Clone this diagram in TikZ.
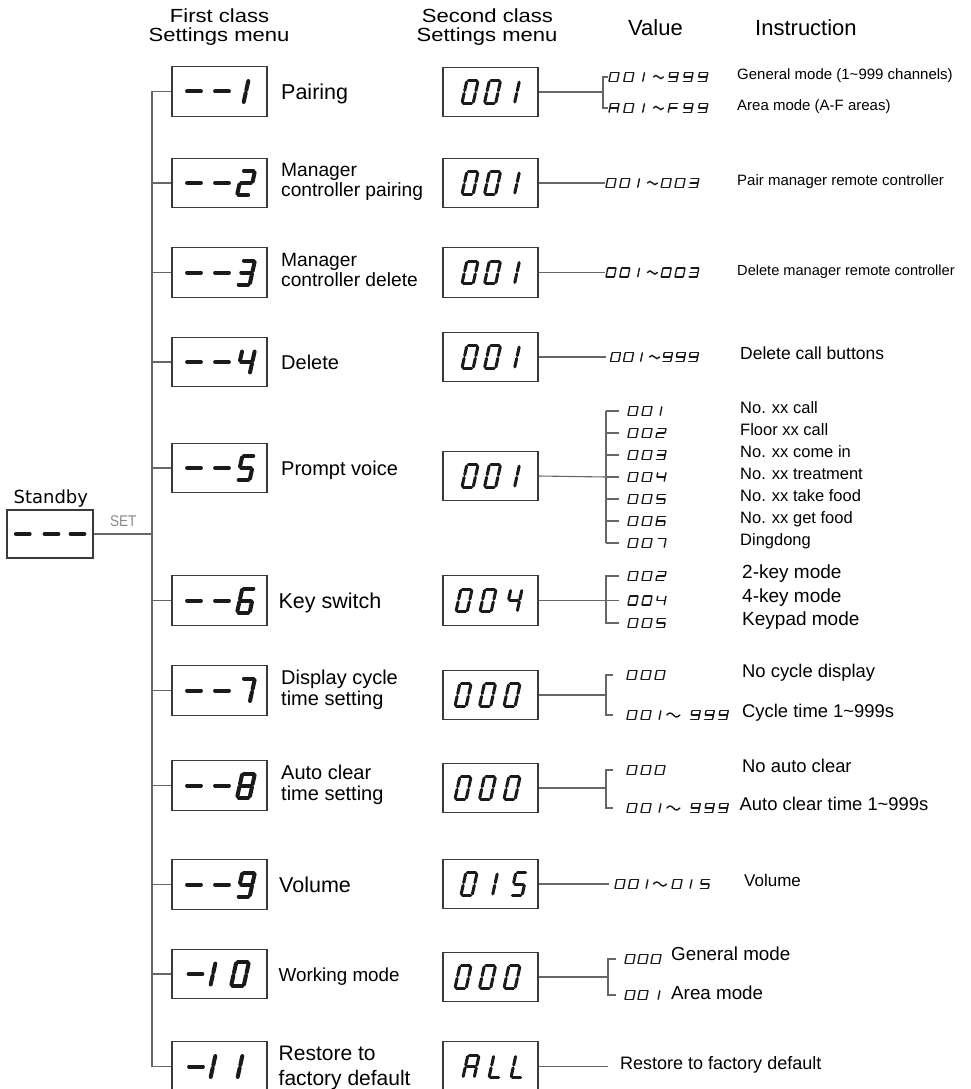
\documentclass[tikz,border=0pt]{standalone}
\usepackage{fontspec}
\setmainfont{Liberation Sans}
\newfontfamily\hdrfont[FakeStretch=1.16]{Liberation Sans}
\newfontfamily\narrowfont[FakeStretch=0.88]{Liberation Sans}
\newfontfamily\sbyfont{DejaVu Sans}
\newcommand\fsz[1]{\fontsize{#1}{#1}\selectfont}
\definecolor{boxc}{HTML}{3A3A3A}
\definecolor{linec}{HTML}{666666}
\definecolor{segc}{HTML}{1A1A1A}
\definecolor{setc}{HTML}{8A8A8A}
% seven-segment machinery
\newcommand\segset[5]{\def\hw{#1}\def\hh{#2}\def\segt{#3}\def\seggap{#4}\def\segsl{#5}}
\def\dw{8.5}
\def\spa{(-\hw,-\hh)--(\hw,-\hh)}
\def\spb{(\hw,-\hh)--(\hw,0)}
\def\spc{(\hw,0)--(\hw,\hh)}
\def\spd{(-\hw,\hh)--(\hw,\hh)}
\def\spe{(-\hw,0)--(-\hw,\hh)}
\def\spf{(-\hw,-\hh)--(-\hw,0)}
\def\spg{(-\hw,0)--(\hw,0)}
\def\spB{(0,-\hh)--(0,0)}
\def\spC{(0,0)--(0,\hh)}
\def\spm{(-\dw,0)--(\dw,0)}
\expandafter\def\csname dg0\endcsname{a,b,c,d,e,f}
\expandafter\def\csname dg1\endcsname{B,C}
\expandafter\def\csname dg2\endcsname{a,b,g,e,d}
\expandafter\def\csname dg3\endcsname{a,b,g,c,d}
\expandafter\def\csname dg4\endcsname{f,g,b,c}
\expandafter\def\csname dg5\endcsname{a,f,g,c,d}
\expandafter\def\csname dg6\endcsname{a,f,g,e,d,c}
\expandafter\def\csname dg7\endcsname{a,b,c}
\expandafter\def\csname dg8\endcsname{a,b,c,d,e,f,g}
\expandafter\def\csname dg9\endcsname{a,b,c,d,f,g}
\expandafter\def\csname dgA\endcsname{a,b,c,e,f,g}
\expandafter\def\csname dgL\endcsname{d,e,f}
\expandafter\def\csname dgF\endcsname{a,e,f,g}
\expandafter\def\csname dgm\endcsname{m}
\tikzset{segline/.style={draw=segc, line width=\segt pt, line cap=round,
  shorten <=\seggap pt, shorten >=\seggap pt}}
\newcommand\segchar[3]{%
  \begin{scope}[shift={(#1,#2)},xslant=\segsl]
    \expandafter\let\expandafter\curlist\csname dg#3\endcsname
    \foreach \s in \curlist {\edef\tmp{\noexpand\draw[segline] \csname sp\s\endcsname;}\tmp}
  \end{scope}}
\newcommand\segstr[4]{%
  \foreach \cc [count=\ii from 0] in {#4} {\segchar{#1+\ii*#3}{#2}{\cc}}}
\newcommand\segtilde[4]{%
  \draw[draw=segc, line width=\segt pt, line cap=round]
    (#1-#3,#2) sin (#1-#3/2,#2-#4) cos (#1,#2) sin (#1+#3/2,#2+#4) cos (#1+#3,#2);}
\newcommand\fbig[2]{\segchar{194}{#1}{m}\segchar{222}{#1}{m}\segchar{246}{#1}{#2}}
\begin{document}
\begin{tikzpicture}[x=1pt,y=-1pt,
  fbox/.style={draw=boxc, line width=1.2pt, minimum width=95pt, minimum height=49.5pt, inner sep=0pt},
  sbox/.style={fbox},
  conn/.style={draw=linec, line width=1.1pt},
  hdr/.style={inner sep=0pt, anchor=base, font=\hdrfont\fsz{19}},
  hdr2/.style={inner sep=0pt, font=\fsz{22}},
  lbl/.style={inner sep=0pt, anchor=base west},
  ins/.style={inner sep=0pt, anchor=mid west},
]
\fill[white] (0,0) rectangle (970,1089);
\useasboundingbox (0,0) rectangle (970,1089);

% ---------- headers
\node[hdr] (h1a) at (219.5,23) {First class};
\node[hdr] (h1b) at (219,41.5) {Settings menu};
\node[hdr] (h2a) at (487.5,23) {Second class};
\node[hdr] (h2b) at (487,41.5) {Settings menu};
\node[hdr2, anchor=base] (hv) at (655.5,35.7) {Value};
\node[hdr2, anchor=base west] (hi) at (755,35.7) {Instruction};

% ---------- standby
\node[inner sep=0pt, anchor=base, font=\sbyfont\fsz{18}] (sbyt) at (50.8,503.3) {Standby};
\node[fbox, minimum width=86pt, minimum height=48pt] (sby) at (50,534) {};
\node[inner sep=0pt, anchor=base, font=\narrowfont\fsz{15.5}, text=setc] (set) at (123.3,526) {SET};

% ---------- first class boxes
\node[fbox] (f1) at (219.5,91.5) {};
\node[fbox] (f2) at (219.5,183) {};
\node[fbox] (f3) at (219.5,272.5) {};
\node[fbox] (f4) at (219.5,362) {};
\node[fbox] (f5) at (219.5,468) {};
\node[fbox] (f6) at (219.5,600.5) {};
\node[fbox] (f7) at (219.5,690.5) {};
\node[fbox] (f8) at (219.5,785.5) {};
\node[fbox] (f9) at (219.5,884.5) {};
\node[fbox] (f10) at (219.5,974) {};
\node[fbox] (f11) at (219.5,1066.5) {};

% ---------- tree on the left
\coordinate (vtop) at (152,91.5);
\coordinate (vbot) at (152,1066.5);
\draw[conn] (vtop) -- (vbot);
\foreach \n in {1,...,11} {\draw[conn] (f\n.west) -- (f\n.west -| vtop);}
\draw[conn] (sby.east) -- (sby.east -| vtop);

% ---------- first class labels
\node[lbl, font=\fsz{21.5}] (l1) at (281,99.2) {Pairing};
\node[lbl, font=\fsz{19.2}] (l2a) at (281,176.7) {Manager};
\node[lbl, font=\fsz{19.2}] (l2b) at (281,196.7) {controller pairing};
\node[lbl, font=\fsz{19.2}] (l3a) at (281,266.2) {Manager};
\node[lbl, font=\fsz{19.2}] (l3b) at (281,286.2) {controller delete};
\node[lbl, font=\fsz{20}] (l4) at (281,369) {Delete};
\node[lbl, font=\fsz{20}] (l5) at (281,475) {Prompt voice};
\node[lbl, font=\fsz{21.5}] (l6) at (278.3,608) {Key switch};
\node[lbl, font=\fsz{20}] (l7a) at (281,684) {Display cycle};
\node[lbl, font=\fsz{20}] (l7b) at (281,705) {time setting};
\node[lbl, font=\fsz{20}] (l8a) at (281,779) {Auto clear};
\node[lbl, font=\fsz{20}] (l8b) at (281,800) {time setting};
\node[lbl, font=\fsz{21.5}] (l9) at (279,892) {Volume};
\node[lbl, font=\fsz{18.8}] (l10) at (278.5,981) {Working mode};
\node[lbl, font=\fsz{21}] (l11a) at (278.5,1060.2) {Restore to};
\node[lbl, font=\fsz{21}] (l11b) at (278.5,1085.5) {factory default};

% ---------- second class boxes
\node[sbox] (s1) at (490.5,92) {};
\node[sbox] (s2) at (490.5,183) {};
\node[sbox] (s3) at (490.5,272.5) {};
\node[sbox] (s4) at (490.5,357) {};
\node[sbox] (s5) at (490.5,476) {};
\node[sbox] (s6) at (490.5,600.5) {};
\node[sbox] (s7) at (490.5,695) {};
\node[sbox] (s8) at (490.5,788) {};
\node[sbox] (s9) at (490.5,884) {};
\node[sbox] (s10) at (490.5,977) {};
\node[sbox] (s11) at (490.5,1066.5) {};

% ---------- connectors, right side
\coordinate (b1) at (603,92); \coordinate (b1t) at (603,77); \coordinate (b1b) at (603,108);
\coordinate (b1tt) at (608,77); \coordinate (b1bt) at (608,108);
\draw[conn] (s1.east) -- (b1);
\draw[conn] (b1tt) -- (b1t) -- (b1b) -- (b1bt);
\coordinate (e2) at (605,183); \draw[conn] (s2.east) -- (e2);
\coordinate (e3) at (605,272.5); \draw[conn] (s3.east) -- (e3);
\coordinate (e4) at (606,357); \draw[conn] (s4.east) -- (e4);
% prompt voice
\coordinate (b5t) at (606,411); \coordinate (b5b) at (606,543);
\draw[conn] (b5t) -- (b5b);
\foreach \k in {0,...,6} {\coordinate (t5a\k) at (606,411+22*\k); \coordinate (t5b\k) at (619,411+22*\k);
  \draw[conn] (t5a\k) -- (t5b\k);}
\draw[conn] (s5.east) -- (t5a3);
% key switch
\coordinate (b6t) at (606,576); \coordinate (b6b) at (606,623); \coordinate (b6m) at (606,600.5);
\coordinate (t6t) at (619,576); \coordinate (t6m) at (619,600.5); \coordinate (t6b) at (619,623);
\draw[conn] (t6t) -- (b6t) -- (b6b) -- (t6b);
\draw[conn] (s6.east) -- (t6m);
% cycle
\coordinate (b7t) at (606,675); \coordinate (b7b) at (606,715); \coordinate (b7m) at (606,695);
\coordinate (t7t) at (613,675); \coordinate (t7b) at (613,715);
\draw[conn] (t7t) -- (b7t) -- (b7b) -- (t7b);
\draw[conn] (s7.east) -- (b7m);
% auto clear
\coordinate (b8t) at (606,770); \coordinate (b8b) at (606,808); \coordinate (b8m) at (606,788);
\coordinate (t8t) at (613,770); \coordinate (t8b) at (613,808);
\draw[conn] (t8t) -- (b8t) -- (b8b) -- (t8b);
\draw[conn] (s8.east) -- (b8m);
% volume
\coordinate (e9) at (609,884); \draw[conn] (s9.east) -- (e9);
% working mode
\coordinate (b10t) at (608,959); \coordinate (b10b) at (608,995); \coordinate (b10m) at (608,977);
\coordinate (t10t) at (616,959); \coordinate (t10b) at (616,995);
\draw[conn] (t10t) -- (b10t) -- (b10b) -- (t10b);
\draw[conn] (s10.east) -- (b10m);
% restore
\coordinate (e11) at (608,1066.5); \draw[conn] (s11.east) -- (e11);

% ---------- big digits, first class
\segset{6.3}{12}{4}{1.6}{0.22}
\segchar{22.8}{534}{m}\segchar{51.5}{534}{m}\segchar{77.5}{534}{m}
\fbig{91.5}{1}
\fbig{183}{2}
\fbig{272.5}{3}
\fbig{362}{4}
\fbig{468}{5}
\fbig{600.5}{6}
\fbig{690.5}{7}
\fbig{785.5}{8}
\fbig{884.5}{9}
\segchar{195.5}{974}{m}\segchar{213}{974}{1}\segchar{240}{974}{0}
\segchar{196}{1066.5}{m}\segchar{213}{1066.5}{1}\segchar{240}{1066.5}{1}

% ---------- big digits, second class
\segset{5.6}{11.3}{3.0}{1.4}{0.22}
\segstr{470}{92}{22.5}{0,0}\segchar{517}{92}{1}
\segstr{470}{183}{22.5}{0,0}\segchar{517}{183}{1}
\segstr{470}{272.5}{22.5}{0,0}\segchar{517}{272.5}{1}
\segstr{470}{357}{22.5}{0,0}\segchar{517}{357}{1}
\segstr{470}{476}{22.5}{0,0}\segchar{517}{476}{1}
\segstr{464}{600.5}{24}{0,0}\segchar{514}{600.5}{4}
\segstr{463}{695}{24.5}{0,0,0}
\segstr{463}{788}{24.5}{0,0,0}
\segchar{469}{884}{0}\segchar{495}{884}{1}\segchar{519}{884}{5}
\segstr{463}{977}{24.5}{0,0,0}
\segchar{471}{1066.5}{A}\segchar{497}{1066.5}{L}\segchar{519}{1066.5}{L}

% ---------- small value digits
\segset{4.1}{4.6}{1.4}{0.4}{0.2}
\segstr{614}{77}{14.8}{0,0,1}\segtilde{658.4}{77}{5}{1.6}\segstr{673.2}{77}{14.8}{9,9,9}
\segstr{614}{108}{14.8}{A,0,1}\segtilde{658.4}{108}{5}{1.6}\segstr{673.2}{108}{14.8}{F,9,9}
\segstr{611}{183}{13.8}{0,0,1}\segtilde{652.4}{183}{5}{1.6}\segstr{666.2}{183}{13.8}{0,0,3}
\segstr{611}{272.5}{13.8}{0,0,1}\segtilde{652.4}{272.5}{5}{1.6}\segstr{666.2}{272.5}{13.8}{0,0,3}
\segstr{615.5}{357}{13}{0,0,1}\segtilde{654.5}{357}{5}{1.6}\segstr{667.5}{357}{13}{9,9,9}
\foreach \k in {1,...,7} {\segstr{633}{389+22*\k}{14}{0,0,\k}}
\segstr{633}{576}{14}{0,0,2}
\segstr{633}{600.5}{14}{0,0,4}
\segstr{633}{623}{14}{0,0,5}
\segstr{632}{675}{14}{0,0,0}
\segstr{632}{715}{14}{0,0,1}\segtilde{673.3}{715}{6.5}{2}\segstr{695.3}{715}{14}{9,9,9}
\segstr{632}{770}{14}{0,0,0}
\segstr{632}{808}{14}{0,0,1}\segtilde{673.3}{808}{6.5}{2}\segstr{695.3}{808}{14}{9,9,9}
\segstr{620}{884}{13.5}{0,0,1}\segtilde{660}{884}{6.5}{2}\segstr{677}{884}{14}{0,1,5}
\segstr{630}{959}{13}{0,0,0}
\segstr{630}{995}{13}{0,0}\segchar{659}{995}{1}

% ---------- instructions
\node[ins, font=\fsz{15}] (i1a) at (737,77) {General mode (1\textasciitilde999 channels)};
\node[ins, font=\fsz{15}] (i1b) at (737,108) {Area mode (A-F areas)};
\node[ins, font=\fsz{15}] (i2) at (737,183) {Pair manager remote controller};
\node[ins, font=\fsz{14.6}] (i3) at (737,272.5) {Delete manager remote controller};
\node[ins, font=\fsz{17.5}] (i4) at (740,357) {Delete call buttons};
\node[ins, font=\fsz{16.5}] (i51) at (740,411) {No. xx call};
\node[ins, font=\fsz{16.5}] (i52) at (740,433) {Floor xx call};
\node[ins, font=\fsz{16.5}] (i53) at (740,455) {No. xx come in};
\node[ins, font=\fsz{16.5}] (i54) at (740,477) {No. xx treatment};
\node[ins, font=\fsz{16.5}] (i55) at (740,499) {No. xx take food};
\node[ins, font=\fsz{16.5}] (i56) at (740,521) {No. xx get food};
\node[ins, font=\fsz{16.5}] (i57) at (740,543) {Dingdong};
\node[ins, font=\fsz{19}] (i61) at (742,576) {2-key mode};
\node[ins, font=\fsz{19}] (i62) at (742,600) {4-key mode};
\node[ins, font=\fsz{19}] (i63) at (742,622.5) {Keypad mode};
\node[ins, font=\fsz{18.4}] (i7a) at (742,675) {No cycle display};
\node[ins, font=\fsz{18.4}] (i7b) at (742,715) {Cycle time 1\textasciitilde999s};
\node[ins, font=\fsz{18.4}] (i8a) at (742,770) {No auto clear};
\node[ins, font=\fsz{18.4}] (i8b) at (739.5,808) {Auto clear time 1\textasciitilde999s};
\node[ins, font=\fsz{17}] (i9) at (744,884) {Volume};
\node[ins, font=\fsz{18.8}] (i10a) at (671,958) {General mode};
\node[ins, font=\fsz{18.8}] (i10b) at (671,997) {Area mode};
\node[ins, font=\fsz{18}] (i11) at (620,1066.5) {Restore to factory default};
\end{tikzpicture}
\end{document}
